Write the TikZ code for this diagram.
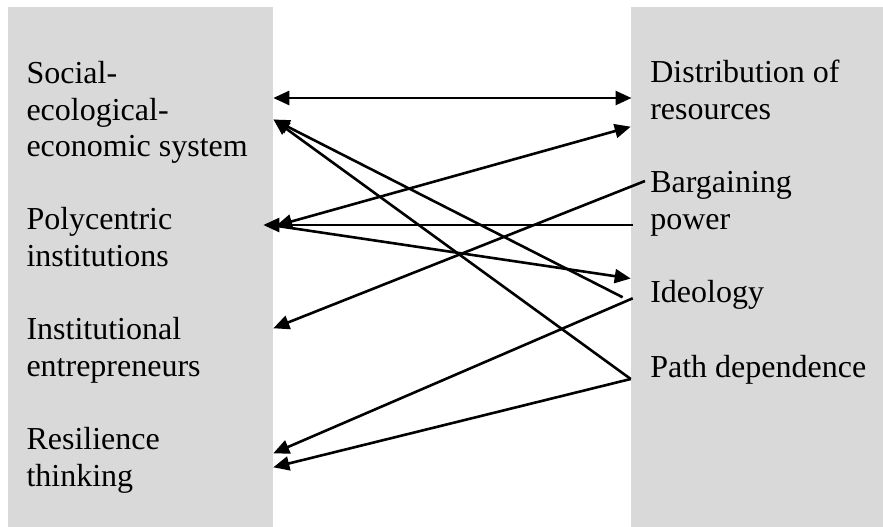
\documentclass[tikz,border=0pt]{standalone}
\usepackage{fontspec}
\setmainfont{Liberation Serif}
\usetikzlibrary{arrows.meta}
\definecolor{boxgray}{HTML}{D9D9D9}
\tikzset{
  conc/.style={anchor=north west, inner sep=0pt, outer sep=0pt, align=left,
    font=\fontsize{32}{36.5}\selectfont},
  link/.style={line width=2.6pt, -{Triangle[length=16pt,width=14pt]}},
  duallink/.style={line width=2.6pt, {Triangle[length=16pt,width=14pt]}-{Triangle[length=16pt,width=14pt]}},
  panel/.style={fill=boxgray, draw=none}
}
\begin{document}
\begin{tikzpicture}[x=1pt, y=-1pt]
\useasboundingbox (0,0) rectangle (883,527);
% grey panels
\fill[panel] (8,7) rectangle (273,527);
\fill[panel] (631,7) rectangle (883,527);
% left concepts (top = first baseline - 0.7*baselineskip)
\node[conc] (ses)  at (26.5, 58.3)  {\strut Social-\\ecological-\\economic system};
\node[conc] (poly) at (26.5, 204.2) {\strut Polycentric\\institutions};
\node[conc] (inst) at (26.5, 314.2) {\strut Institutional\\entrepreneurs};
\node[conc] (res)  at (26.5, 424.4) {\strut Resilience\\thinking};
% right concepts
\node[conc] (dist) at (650.3, 57.4)  {\strut Distribution of\\resources};
\node[conc] (barg) at (650.3, 167.3) {\strut Bargaining\\power};
\node[conc] (ideo) at (650.3, 277.3) {\strut Ideology};
\node[conc] (path) at (650.3, 352.1) {\strut Path dependence};
% connector end points
\coordinate (sesTop)  at (273.3, 98);
\coordinate (distTop) at (631.5, 98);
\coordinate (sesIn)   at (273.5, 119.5);
\coordinate (ideoOutA) at (622.7, 297.3);
\coordinate (ideoOutB) at (632.7, 298.3);
\coordinate (pathOut) at (630.7, 379);
\coordinate (polyA)   at (276, 225.8);
\coordinate (polyB)   at (263.3, 225);
\coordinate (distIn)  at (630.7, 126.7);
\coordinate (powerOut) at (632.7, 225);
\coordinate (ideoIn)  at (630.7, 278.5);
\coordinate (bargOut) at (645, 181);
\coordinate (instIn)  at (273.3, 328.3);
\coordinate (resInA)  at (273.3, 453.3);
\coordinate (resInB)  at (273.3, 467.3);
% connectors
\draw[duallink] (sesTop) -- (distTop);
\draw[link] (ideoOutA) -- (sesIn);
\draw[link] (pathOut) -- (sesIn);
\draw[duallink] (polyA) -- (distIn);
\draw[link] (powerOut) -- (polyB);
\draw[link] (polyA) -- (ideoIn);
\draw[link] (bargOut) -- (instIn);
\draw[link] (ideoOutB) -- (resInA);
\draw[link] (pathOut) -- (resInB);
\end{tikzpicture}
\end{document}
